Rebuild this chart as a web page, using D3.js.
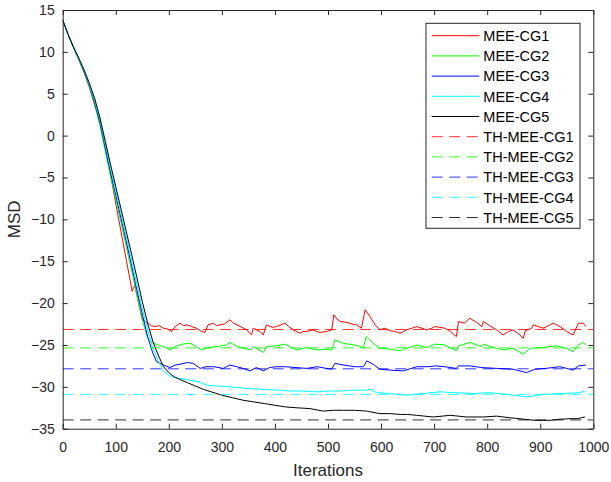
<!DOCTYPE html>
<html>
<head>
<meta charset="utf-8">
<script src="https://cdn.jsdelivr.net/npm/d3@7"></script>
<style>
  body { margin: 0; background: #fff; }
  svg { display: block; font-family: "Liberation Sans", Arial, sans-serif; }
</style>
</head>
<body>
<div id="chart"></div>
<script>
// Data ----------------------------------------------------------------------------------------------------------------
const seriesNames = ["MEE-CG1", "MEE-CG2", "MEE-CG3", "MEE-CG4", "MEE-CG5"];
const thNames = ["TH-MEE-CG1", "TH-MEE-CG2", "TH-MEE-CG3", "TH-MEE-CG4", "TH-MEE-CG5"];
const seriesColors = ["#ff0000", "#00ff00", "#0000ff", "#00ffff", "#000000"];

// [iteration, MSD]
const mee1 = [[0,13.8],[10,12.1],[20,10.6],[30,9.1],[40,7.6],[50,5.8],[60,3.7],[70,1.6],[80,-1.2],[90,-4.6],[100,-8.1],
  [110,-11.5],[120,-14.9],[131,-18.6],[132,-18.4],[136,-17.9],[140,-19.1],[150,-22.0],[158,-22.3],[161,-22.4],[167,-22.7],
  [174,-22.8],
  [182,-22.7],[190,-23.0],[198,-23.1],[205,-23.4],[212,-22.8],[221,-22.4],[228,-22.7],[234,-22.6],[243,-22.8],[252,-23.0],
  [262,-23.4],[268,-23.5],[274,-22.6],[284,-22.4],[290,-22.7],[296,-22.6],[305,-22.5],[315,-22.0],[322,-22.4],[335,-22.8],
  [347,-23.2],[356,-23.8],[359,-23.0],[366,-23.2],[372,-23.4],[378,-23.8],[384,-22.6],[395,-22.9],[403,-22.8],[411,-22.6],
  [419,-22.4],[426,-22.8],[435,-23.2],[447,-23.6],[453,-23.4],[460,-23.4],[466,-23.3],[472,-23.2],[479,-23.4],[485,-23.5],
  [497,-23.4],[507,-23.2],[511,-21.4],[517,-21.9],[523,-22.2],[535,-22.3],[545,-22.5],[554,-22.6],[563,-23.0],[570,-20.8],
  [579,-21.6],[589,-22.6],[598,-23.2],[607,-23.0],[617,-23.3],[627,-23.4],[636,-23.6],[648,-23.2],[658,-23.0],[667,-22.8],
  [677,-23.0],[686,-23.2],[695,-23.0],[702,-22.8],[711,-22.9],[720,-23.0],[731,-23.4],[742,-24.0],[746,-22.2],[757,-22.4],
  [767,-21.8],[780,-22.3],[790,-22.8],[793,-22.2],[805,-22.7],[818,-23.2],[830,-23.8],[840,-23.4],[849,-23.2],[858,-23.6],
  [868,-24.2],[872,-23.3],[884,-23.0],[887,-22.6],[896,-22.8],[906,-23.0],[915,-22.7],[925,-22.4],[937,-22.8],[950,-23.4],
  [962,-23.8],[972,-22.4],[981,-22.4],[986,-22.8]];

const mee2 = [[0,13.8],[10,12.1],[20,10.6],[30,9.1],[40,7.6],[50,5.9],[60,3.8],[70,1.3],[80,-1.8],[90,-4.8],[100,-7.6],
  [110,-10.4],[120,-13.3],[130,-16.2],[140,-19.1],[150,-22.0],[160,-24.2],[171,-24.8],[180,-25.0],[190,-25.2],[203,-25.6],
  [212,-25.2],[225,-24.9],[240,-24.8],[252,-25.2],[262,-25.6],[274,-25.3],[290,-25.2],[309,-25.0],[315,-24.7],[330,-25.2],
  [353,-25.6],[360,-25.2],[378,-25.9],[384,-25.2],[403,-25.1],[419,-24.9],[441,-25.6],[460,-25.3],[479,-25.6],[495,-25.5],
  [507,-25.6],[513,-24.4],[529,-24.8],[550,-25.0],[567,-25.3],[572,-24.0],[585,-24.8],[598,-25.4],[617,-25.5],[636,-25.7],
  [648,-25.4],[667,-25.0],[686,-25.3],[702,-24.9],[720,-25.0],[742,-25.7],[746,-25.1],[768,-24.7],[790,-25.2],[793,-24.9],
  [818,-25.4],[830,-25.6],[849,-25.4],[868,-26.1],[881,-25.4],[906,-25.3],[931,-25.1],[950,-25.4],[962,-25.8],[972,-25.0],
  [981,-24.7],[986,-25.0]];

const mee3 = [[0,13.8],[10,12.1],[20,10.6],[30,9.2],[40,7.7],[50,6.0],[60,4.0],[70,1.6],[80,-1.4],[90,-4.3],[100,-7.1],
  [110,-9.9],[120,-12.7],[130,-15.6],[140,-18.5],[150,-21.3],[160,-24.0],[170,-26.0],[177,-27.0],[190,-27.4],[202,-27.7],
  [212,-27.4],[221,-27.3],[235,-27.1],[246,-27.2],[259,-27.8],[270,-27.6],[285,-27.6],[303,-27.8],[315,-27.4],[328,-27.6],
  [340,-27.8],[353,-28.1],[365,-27.7],[378,-28.1],[390,-27.7],[403,-27.6],[420,-27.6],[440,-27.7],[460,-27.8],[480,-27.6],
  [497,-27.8],[507,-27.9],[513,-27.2],[530,-27.4],[550,-27.6],[567,-27.6],[573,-26.9],[585,-27.3],[598,-27.9],[617,-28.0],
  [642,-28.1],[667,-27.6],[690,-27.6],[702,-27.5],[720,-27.6],[742,-27.8],[746,-27.5],[768,-27.5],[790,-27.7],[818,-27.8],
  [849,-27.9],[874,-28.3],[890,-27.9],[910,-27.8],[937,-27.6],[950,-27.8],[962,-28.0],[972,-27.5],[986,-27.4]];

const mee4 = [[0,13.8],[10,12.1],[20,10.6],[30,9.2],[40,7.8],[50,6.1],[60,4.2],[70,1.9],[80,-1.0],[90,-3.9],[100,-6.6],
  [110,-9.4],[120,-12.1],[130,-14.9],[140,-17.8],[150,-20.6],[160,-23.2],[170,-25.4],[180,-26.9],[190,-28.1],[200,-28.6],
  [210,-28.9],[221,-29.0],[240,-29.2],[255,-29.4],[271,-29.8],[290,-29.9],[315,-30.0],[347,-30.2],[378,-30.3],[410,-30.4],
  [428,-30.5],[450,-30.5],[479,-30.6],[500,-30.5],[523,-30.5],[548,-30.4],[573,-30.4],[579,-30.3],[592,-30.7],[617,-30.8],
  [648,-31.0],[680,-30.8],[711,-30.6],[740,-30.7],[774,-30.8],[805,-30.7],[837,-30.9],[874,-31.2],[906,-30.9],[940,-30.8],
  [975,-30.7],[984,-30.5]];

const mee5 = [[0,13.8],[10,12.1],[20,10.6],[30,9.3],[40,7.9],[50,6.3],[60,4.5],[70,2.2],[80,-0.6],[90,-3.4],[100,-6.1],
  [110,-8.8],[120,-11.5],[130,-14.2],[140,-17.0],[150,-19.8],[160,-22.4],[170,-24.6],[180,-26.2],[190,-27.6],[200,-28.3],
  [210,-28.8],[220,-29.1],[235,-29.5],[250,-29.9],[265,-30.3],[280,-30.6],[300,-31.0],[320,-31.3],[340,-31.6],[360,-31.8],
  [380,-32.0],[400,-32.2],[420,-32.4],[440,-32.5],[466,-32.6],[491,-32.9],[510,-32.8],[529,-32.8],[550,-32.8],[573,-32.9],
  [598,-33.2],[617,-33.2],[636,-33.3],[650,-33.3],[667,-33.4],[698,-33.6],[715,-33.5],[730,-33.4],[761,-33.6],[793,-33.6],
  [818,-33.5],[843,-33.7],[860,-33.8],[874,-33.9],[890,-34.0],[906,-34.0],[920,-34.0],[931,-33.9],[956,-33.8],[970,-33.8],
  [984,-33.6]];

const thValues = [-23.15, -25.35, -27.85, -30.9, -33.95];

const xTicks = [0, 100, 200, 300, 400, 500, 600, 700, 800, 900, 1000];
const yTicks = [-35, -30, -25, -20, -15, -10, -5, 0, 5, 10, 15];

// Canvas --------------------------------------------------------------------------------------------------------------
const canvasWidth = 611;
const canvasHeight = 482;

const topPadding = 10;
const rightPadding = 17.7;
const bottomPadding = 53.3;
const leftPadding = 62.7;

const axisColor = "#262626";
const tickLength = 5;
const tickFontSize = 14;

const svg = d3.select("#chart")
  .append("svg")
  .attr("width", canvasWidth)
  .attr("height", canvasHeight);

const xScale = d3.scaleLinear()
  .domain([0, 1000])
  .range([leftPadding, canvasWidth - rightPadding]);
const yScale = d3.scaleLinear()
  .domain([-35, 15])
  .range([canvasHeight - bottomPadding, topPadding]);

svg.append("clipPath")
  .attr("id", "plot-clip")
  .append("rect")
  .attr("x", leftPadding)
  .attr("y", topPadding)
  .attr("width", xScale(1000) - leftPadding)
  .attr("height", yScale(-35) - topPadding);

// Curves --------------------------------------------------------------------------------------------------------------
const chartGroup = svg.append("g").attr("clip-path", "url(#plot-clip)");

const line = d3.line()
  .x(d => xScale(d[0]))
  .y(d => yScale(d[1]));

[mee1, mee2, mee3, mee4, mee5].forEach(function(series, i) {
  chartGroup.append("path")
    .datum(series)
    .attr("d", line)
    .style("fill", "none")
    .style("stroke", seriesColors[i])
    .style("stroke-width", 1)
    .style("stroke-linejoin", "round");
});

chartGroup.selectAll(".th-line")
  .data(thValues)
  .join("line")
  .attr("class", "th-line")
  .attr("x1", xScale(0))
  .attr("x2", xScale(1000))
  .attr("y1", d => yScale(d))
  .attr("y2", d => yScale(d))
  .style("stroke", (d, i) => seriesColors[i])
  .style("stroke-width", 1)
  .style("stroke-dasharray", "11,6.5")
  .style("opacity", 0.8);

// Axes ----------------------------------------------------------------------------------------------------------------
const styleAxis = function(g) {
  g.selectAll("path, line").style("stroke", axisColor).style("stroke-width", 1);
  g.selectAll("text").style("fill", axisColor).style("font-size", tickFontSize + "px");
};

svg.append("g")
  .attr("transform", "translate(0," + yScale(-35) + ")")
  .call(d3.axisBottom(xScale).tickValues(xTicks).tickFormat(d3.format("d"))
    .tickSizeInner(-tickLength).tickSizeOuter(0).tickPadding(13))
  .call(styleAxis);

svg.append("g")
  .attr("transform", "translate(0," + yScale(15) + ")")
  .call(d3.axisTop(xScale).tickValues(xTicks).tickFormat("")
    .tickSizeInner(-tickLength).tickSizeOuter(0))
  .call(styleAxis);

svg.append("g")
  .attr("transform", "translate(" + xScale(0) + ",0)")
  .call(d3.axisLeft(yScale).tickValues(yTicks).tickFormat(d3.format("d"))
    .tickSizeInner(-tickLength).tickSizeOuter(0).tickPadding(8))
  .call(styleAxis);

svg.append("g")
  .attr("transform", "translate(" + xScale(1000) + ",0)")
  .call(d3.axisRight(yScale).tickValues(yTicks).tickFormat("")
    .tickSizeInner(-tickLength).tickSizeOuter(0))
  .call(styleAxis);

svg.selectAll(".domain").style("stroke", axisColor);

svg.append("text")
  .text("Iterations")
  .attr("x", (xScale(0) + xScale(1000)) / 2)
  .attr("y", 476)
  .style("text-anchor", "middle")
  .style("font-size", "17px")
  .style("fill", axisColor);

svg.append("text")
  .text("MSD")
  .attr("transform", "translate(20," + (yScale(-35) + yScale(15)) / 2 + ") rotate(-90)")
  .style("text-anchor", "middle")
  .style("font-size", "17px")
  .style("fill", axisColor);

// Legend --------------------------------------------------------------------------------------------------------------
const legendX = 426;
const legendY = 23.3;
const legendWidth = 154;
const legendHeight = 205;
const legendRow = 20.2;

const legendGroup = svg.append("g")
  .attr("transform", "translate(" + legendX + "," + legendY + ")");

legendGroup.append("rect")
  .attr("width", legendWidth)
  .attr("height", legendHeight)
  .style("fill", "#fff")
  .style("stroke", axisColor)
  .style("stroke-width", 1);

const legendItems = seriesNames.map((name, i) => ({ name: name, color: seriesColors[i], dashed: false }))
  .concat(thNames.map((name, i) => ({ name: name, color: seriesColors[i], dashed: true })));

const legendEntry = legendGroup.selectAll(".legend-entry")
  .data(legendItems)
  .join("g")
  .attr("class", "legend-entry")
  .attr("transform", (d, i) => "translate(0," + (12.4 + i * legendRow) + ")");

legendEntry.append("line")
  .attr("x1", 5.7)
  .attr("x2", 53.3)
  .attr("y1", 0)
  .attr("y2", 0)
  .style("stroke", d => d.color)
  .style("stroke-width", 1)
  .style("stroke-dasharray", d => d.dashed ? "11,6.5" : null)
  .style("opacity", d => d.dashed ? 0.8 : 1);

legendEntry.append("text")
  .text(d => d.name)
  .attr("x", 57.3)
  .attr("y", 0)
  .attr("dy", "0.36em")
  .style("font-size", "14.5px")
  .style("fill", "#000");
</script>
</body>
</html>
